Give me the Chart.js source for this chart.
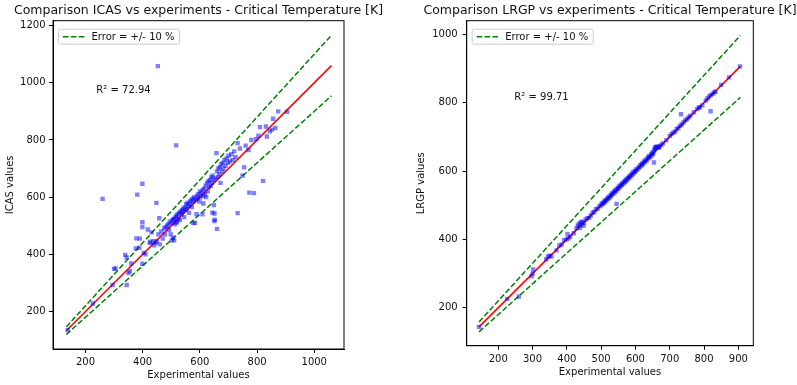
<!DOCTYPE html>
<html>
<head>
<meta charset="utf-8">
<script src="https://cdn.jsdelivr.net/npm/chart.js@4.4.1/dist/chart.umd.min.js"></script>
<style>
  body { margin: 0; background: #fff; }
  #wrap { position: relative; width: 797px; height: 385px; }
  canvas { position: absolute; top: 0; }
</style>
</head>
<body>
<div id="wrap">
  <canvas id="icasChart" width="398" height="385" style="left:0"></canvas>
  <canvas id="lrgpChart" width="399" height="385" style="left:398px"></canvas>
</div>
<script>
// points: [experimental, predicted] in K
const icasPoints = [
  [138,135],[226,228],[295,293],[300,349],[305,351],[344,293],[344,389],[350,335],[339,398],[355,341],
  [360,368],[376,421],[388,423],[378,456],[390,455],[381,609],[260,594],[399,367],[404,405],[399,495],
  [399,512],[410,400],[418,487],[425,440],[427,444],[431,477],[438,446],[440,432],[445,440],[448,580],
  [450,446],[455,470],[458,526],[460,435],[465,480],[470,455],[475,490],[478,470],[480,495],[485,500],
  [490,505],[492,485],[495,515],[498,470],[500,510],[502,449],[505,520],[506,458],[507,521],[510,449],
  [510,525],[512,505],[515,530],[518,510],[518,535],[520,515],[522,540],[525,525],[528,545],[530,520],
  [532,550],[535,540],[538,555],[540,548],[542,560],[545,530],[547,565],[550,555],[552,575],[555,560],
  [557,580],[560,570],[562,545],[565,585],[567,575],[570,590],[572,565],[575,595],[577,509],[578,585],
  [580,600],[583,510],[585,590],[588,540],[590,605],[592,595],[595,610],[598,585],[600,620],[602,600],
  [605,615],[609,540],[610,625],[612,578],[612,605],[615,630],[618,610],[620,640],[622,600],[625,650],
  [628,620],[630,655],[632,635],[635,660],[638,640],[640,670],[642,650],[644,546],[645,675],[648,660],
  [649,572],[651,543],[651,516],[652,521],[655,665],[658,754],[660,690],[660,489],[663,670],[665,700],
  [668,680],[670,705],[672,650],[675,715],[678,690],[680,720],[683,700],[686,730],[690,710],[694,735],
  [698,720],[700,745],[705,725],[710,750],[715,730],[720,760],[725,740],[732,544],[732,789],[740,770],
  [749,675],[755,704],[760,780],[770,765],[773,616],[780,800],[789,614],[797,803],[805,815],[810,845],
  [821,657],[831,847],[834,812],[845,830],[852,836],[856,874],[864,842],[874,900],[905,898],[453,1058],
  [517,781],[399,647]
];
const lrgpPoints = [
  [144,144],[226,226],[260,233],[297,292],[302,312],[300,300],[340,342],[345,350],[350,352],[355,350],
  [370,368],[378,382],[385,385],[392,398],[399,400],[402,415],[405,403],[410,408],[420,418],[428,432],
  [432,440],[435,445],[438,434],[440,450],[442,445],[445,452],[448,440],[450,448],[455,458],[460,462],
  [465,463],[470,470],[475,478],[480,480],[485,488],[490,490],[495,497],[500,500],[502,506],[505,503],
  [508,510],[510,508],[512,515],[515,513],[518,520],[520,518],[522,525],[525,522],[528,530],[530,528],
  [532,535],[535,533],[538,540],[540,538],[542,545],[545,504],[545,543],[548,550],[550,548],[552,556],
  [555,553],[558,560],[560,558],[562,565],[565,563],[568,570],[570,568],[572,575],[575,573],[578,580],
  [580,578],[582,585],[585,583],[588,590],[590,588],[592,596],[595,593],[598,600],[600,598],[603,606],
  [606,604],[610,612],[612,610],[615,618],[618,616],[620,623],[622,620],[625,628],[628,626],[630,633],
  [633,631],[636,640],[638,637],[640,644],[643,641],[646,650],[648,646],[650,655],[652,651],[654,625],
  [655,660],[656,665],[658,670],[660,668],[662,672],[665,670],[668,668],[670,672],[675,676],[680,681],
  [690,690],[700,702],[705,708],[710,712],[715,715],[720,722],[725,726],[730,732],[733,766],[735,736],
  [740,742],[745,748],[750,752],[755,757],[760,762],[770,772],[780,781],[785,786],[788,786],[795,792],
  [805,806],[810,812],[815,818],[819,775],[820,822],[825,826],[830,830],[833,832],[850,852],[873,874],
  [905,906]
];

// ends of the parity line for each plot
const icasRange = [133, 1060];
const lrgpRange = [144, 906];

const icasXTicks = [200, 400, 600, 800, 1000];
const icasYTicks = [200, 400, 600, 800, 1000, 1200];
const lrgpXTicks = [200, 300, 400, 500, 600, 700, 800, 900];
const lrgpYTicks = [200, 400, 600, 800, 1000];

const FONT = '"DejaVu Sans", sans-serif';
const INK = '#111';

// box around the plot area (matplotlib style spines)
const framePlugin = {
  id: 'frame',
  afterDatasetsDraw(chart) {
    const { ctx, chartArea: a } = chart;
    ctx.save();
    ctx.strokeStyle = '#000';
    ctx.lineWidth = 1;
    ctx.strokeRect(a.left, a.top, a.right - a.left, a.bottom - a.top);
    ctx.restore();
  }
};

// axes title, centred over the plot area rather than the canvas
const axTitlePlugin = {
  id: 'axTitle',
  afterDraw(chart, args, opts) {
    const { ctx, chartArea: a } = chart;
    ctx.save();
    ctx.font = '12.5px ' + FONT;
    ctx.fillStyle = INK;
    ctx.textAlign = 'center';
    ctx.textBaseline = 'middle';
    ctx.fillText(opts.text, (a.left + a.right) / 2, a.top - 9.5);
    ctx.restore();
  }
};

// R² text placed in data coordinates
const r2Plugin = {
  id: 'r2Label',
  afterDatasetsDraw(chart, args, opts) {
    const { ctx, scales } = chart;
    ctx.save();
    ctx.font = '10px ' + FONT;
    ctx.fillStyle = INK;
    ctx.textBaseline = 'middle';
    ctx.fillText(opts.text, scales.x.getPixelForValue(opts.at[0]), scales.y.getPixelForValue(opts.at[1]));
    ctx.restore();
  }
};

// legend box in the upper left corner of the axes
const legendPlugin = {
  id: 'mplLegend',
  afterDraw(chart) {
    const ds = chart.data.datasets.find(d => d.label);
    const { ctx, chartArea: a } = chart;
    ctx.save();
    ctx.font = '10px ' + FONT;
    const tw = ctx.measureText(ds.label).width;
    const x = a.left + 5.5, y = a.top + 8.5, w = tw + 38, h = 15;
    ctx.beginPath();
    ctx.roundRect(x, y, w, h, 2);
    ctx.fillStyle = 'rgba(255,255,255,0.8)';
    ctx.fill();
    ctx.strokeStyle = '#cccccc';
    ctx.lineWidth = 1;
    ctx.stroke();
    ctx.beginPath();
    ctx.setLineDash(ds.borderDash);
    ctx.strokeStyle = ds.borderColor;
    ctx.lineWidth = ds.borderWidth;
    ctx.moveTo(x + 4.5, y + h / 2);
    ctx.lineTo(x + 27, y + h / 2);
    ctx.stroke();
    ctx.setLineDash([]);
    ctx.fillStyle = INK;
    ctx.textBaseline = 'middle';
    ctx.fillText(ds.label, x + 33, y + h / 2 + 0.5);
    ctx.restore();
  }
};

function lineSet(range, k, color, dash, label) {
  return {
    label: label,
    data: [{ x: range[0], y: range[0] * k }, { x: range[1], y: range[1] * k }],
    showLine: true,
    borderColor: color,
    borderWidth: 1.5,
    borderDash: dash,
    pointRadius: 0,
    fill: false
  };
}

function makeChart(id, o) {
  const tickFont = { family: FONT, size: 10 };
  new Chart(document.getElementById(id).getContext('2d'), {
    type: 'scatter',
    data: {
      datasets: [
        {
          data: o.points.map(p => ({ x: p[0], y: p[1] })),
          backgroundColor: 'rgba(0,0,255,0.5)',
          borderWidth: 0,
          pointStyle: 'rect',
          pointRadius: 3.1
        },
        lineSet(o.range, 1, '#ff0000', []),
        lineSet(o.range, 1.1, '#008000', [5.5, 2.4], 'Error = +/- 10 %'),
        lineSet(o.range, 0.9, '#008000', [5.5, 2.4])
      ]
    },
    options: {
      responsive: false,
      animation: false,
      devicePixelRatio: 1,
      layout: { padding: { left: 0, right: o.padRight, top: 20.7, bottom: 0 } },
      plugins: {
        legend: { display: false },
        tooltip: { enabled: false },
        title: { display: false },
        axTitle: { text: o.title },
        r2Label: { text: o.r2, at: o.r2At }
      },
      scales: {
        x: {
          type: 'linear',
          min: o.xRange[0],
          max: o.xRange[1],
          afterBuildTicks: s => { s.ticks = o.xTicks.map(v => ({ value: v })); },
          afterFit: s => { s.height = o.xHeight; },
          ticks: { font: tickFont, color: INK, padding: 3.5, maxRotation: 0, autoSkip: false, callback: v => String(v) },
          grid: { drawOnChartArea: false, tickLength: 4, tickColor: '#000', color: '#000' },
          border: { color: '#000', width: 1 },
          title: { display: true, text: 'Experimental values', color: INK, font: tickFont, padding: { top: 0, bottom: o.xTitlePad } }
        },
        y: {
          type: 'linear',
          min: o.yRange[0],
          max: o.yRange[1],
          afterBuildTicks: s => { s.ticks = o.yTicks.map(v => ({ value: v })); },
          afterFit: s => { s.width = o.yWidth; },
          ticks: { font: tickFont, color: INK, padding: o.yTickPad, autoSkip: false, callback: v => String(v) },
          grid: { drawOnChartArea: false, tickLength: 4, tickColor: '#000', color: '#000' },
          border: { color: '#000', width: 1 },
          title: { display: true, text: o.yLabel, color: INK, font: tickFont, padding: { top: o.yTitlePad, bottom: 0 } }
        }
      }
    },
    plugins: [framePlugin, r2Plugin, legendPlugin, axTitlePlugin]
  });
}

makeChart('icasChart', {
  title: 'Comparison ICAS vs experiments - Critical Temperature [K]',
  yLabel: 'ICAS values',
  r2: 'R\u00B2 = 72.94',
  r2At: [238, 973],
  points: icasPoints,
  range: icasRange,
  xTicks: icasXTicks,
  yTicks: icasYTicks,
  xRange: [86.5, 1104],
  yRange: [69, 1217],
  padRight: 54,
  yWidth: 53,
  xHeight: 36,
  yTickPad: 3.5,
  yTitlePad: 4,
  xTitlePad: 4
});

makeChart('lrgpChart', {
  title: 'Comparison LRGP vs experiments - Critical Temperature [K]',
  yLabel: 'LRGP values',
  r2: 'R\u00B2 = 99.71',
  r2At: [247, 814],
  points: lrgpPoints,
  range: lrgpRange,
  xTicks: lrgpXTicks,
  yTicks: lrgpYTicks,
  xRange: [108, 943.7],
  yRange: [89, 1039.7],
  padRight: 43.7,
  yWidth: 68.7,
  xHeight: 39.3,
  yTickPad: 5,
  yTitlePad: 17.7,
  xTitlePad: 6.3
});
</script>
</body>
</html>
